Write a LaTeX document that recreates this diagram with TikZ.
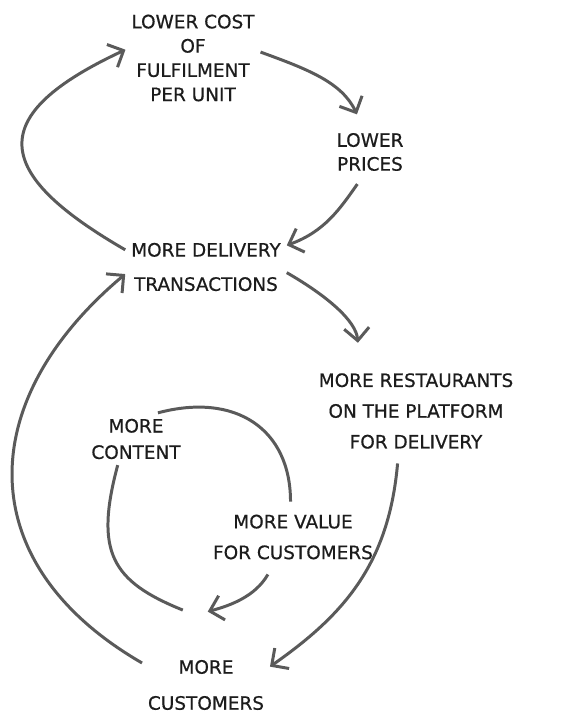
\documentclass[tikz,border=0pt]{standalone}
\usepackage{fontspec}
\setmainfont{DejaVu Sans}[FakeBold=0.6]
\usetikzlibrary{arrows.meta,positioning}
\definecolor{pen}{HTML}{5A5A5A}
\definecolor{ink}{HTML}{1C1C1C}

\begin{document}
\begin{tikzpicture}[->,>={Straight Barb[length=2.5mm,width=5mm]},thick,on grid,
                    main node/.style={align=center,inner sep=3pt,text=ink,
                      font=\fontsize{10.5}{17.5}\selectfont},
                    loop line/.style={color=pen,line width=1.7pt}]
  \useasboundingbox (0,0) rectangle (11.64,14.3);

  \node[main node,font=\fontsize{10.5}{13.8}\selectfont] (cost) at (3.86,13.14) {LOWER COST\\OF\\FULFILMENT\\PER UNIT};
  \node[main node,font=\fontsize{10.5}{13.6}\selectfont] (prices) [below right=1.88cm and 3.54cm of cost] {LOWER\\PRICES};
  \node[main node] (trans) [below right=4.18cm and 0.26cm of cost] {MORE DELIVERY\\[2pt]TRANSACTIONS};
  \node[main node] (rest) [below right=2.88cm and 4.2cm of trans] {MORE RESTAURANTS\\ON THE PLATFORM\\FOR DELIVERY};
  \node[main node,font=\fontsize{10.5}{15}\selectfont] (content) [below left=3.44cm and 1.4cm of trans] {MORE\\CONTENT};
  \node[main node] (value) [below right=1.96cm and 3.14cm of content] {MORE VALUE\\FOR CUSTOMERS};
  \node[main node] (cust) [below=8.36cm of trans] {MORE\\[3pt]CUSTOMERS};
  \coordinate[above left=1.4cm and 0.22cm of cust] (bot);

  \path[loop line]
    (trans.168)
        edge[out=150,in=205,distance=3.1cm] (cost.173)
    (cost.5)
        edge[out=-20,in=115,shorten >=8pt] (prices.106)
    (prices.253)
        edge[out=235,in=20,shorten <=5pt] (trans.15)
    (trans.-4)
        edge[out=-30,in=95,shorten >=14pt] (rest.142)
    (rest.248)
        edge[out=265,in=35,out distance=2.2cm,in distance=1.8cm,shorten <=5pt] (cust.16)
    (cust.161)
        edge[out=150,in=220,distance=3.96cm] (trans.185)
    (content.50)
        edge[-,out=15,in=90,distance=1.6cm,shorten >=4pt] (value.95)
    (value.235)
        edge[out=240,in=15,shorten <=6pt,shorten >=7.5pt] (bot)
    (content.235)
        edge[-,out=255,in=158,distance=1.8cm,shorten >=7.5pt] (bot)
    ;
\end{tikzpicture}
\end{document}
